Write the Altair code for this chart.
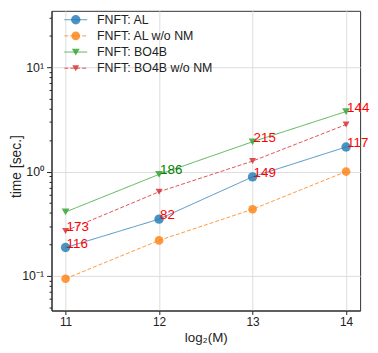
import altair as alt
import pandas as pd

names = ["FNFT: AL", "FNFT: AL w/o NM", "FNFT: BO4B", "FNFT: BO4B w/o NM"]
colors = ["#1f77b4", "#ff7f0e", "#2ca02c", "#d62728"]
shapes = ["circle", "circle", "triangle-down", "triangle-down"]
sizes = [90, 49, 135, 90]
dashes = [[1, 0], [4, 2], [1, 0], [4, 2]]

log2M = [11, 12, 13, 14]
t_al = [0.187, 0.35, 0.89, 1.72]
t_al_nm = [0.094, 0.219, 0.435, 1.0]
t_bo4b = [0.41, 0.94, 1.93, 3.76]
t_bo4b_nm = [0.27, 0.64, 1.26, 2.82]

ann_x = [11, 11, 12, 12, 13, 13, 14, 14]
ann_y = [0.187, 0.27, 0.35, 0.94, 0.89, 1.93, 1.72, 3.76]
ann_text = ["116", "173", "82", "186", "149", "215", "117", "144"]
ann_color = ["#ff0000", "#ff0000", "#ff0000", "#008000", "#ff0000", "#ff0000", "#ff0000", "#ff0000"]

major_y = [0.1, 1, 10]
minor_y = [0.05, 0.06, 0.07, 0.08, 0.09,
           0.2, 0.3, 0.4, 0.5, 0.6, 0.7, 0.8, 0.9,
           2, 3, 4, 5, 6, 7, 8, 9, 20, 30]

rows = []
for name, vals in zip(names, [t_al, t_al_nm, t_bo4b, t_bo4b_nm]):
    for x, v in zip(log2M, vals):
        rows.append({"series": name, "M": x, "t": v})
df = pd.DataFrame(rows)
ann = pd.DataFrame({"M": ann_x, "t": ann_y, "label": ann_text, "c": ann_color})
leg = pd.DataFrame({"series": names})

FONT = "Liberation Sans"
xscale = alt.Scale(domain=[10.85, 14.15], nice=False, zero=False)
yscale = alt.Scale(type="log", domain=[0.0466, 34.7], nice=False)
cscale = alt.Scale(domain=names, range=colors)
shscale = alt.Scale(domain=names, range=shapes)
szscale = alt.Scale(domain=names, range=sizes)
dscale = alt.Scale(domain=names, range=dashes)
legy = alt.Scale(type="point", domain=names, range=[9, 58], padding=0)

xaxis = alt.Axis(values=log2M, format="d", title="log₂(M)", grid=True,
                 gridColor="#dddddd", tickSize=4, tickColor="#222",
                 labelFontSize=12, labelColor="#222", titleFontSize=13.5,
                 titleFontWeight="normal", titleColor="#222", labelPadding=2,
                 titlePadding=3, domainColor="#222")

lines = alt.Chart(df).mark_line(strokeWidth=1, opacity=0.8).encode(
    x=alt.X("M:Q", scale=xscale, axis=xaxis),
    y=alt.Y("t:Q", scale=yscale, axis=alt.Axis(
        values=major_y, grid=True, gridColor="#dddddd", title="time [sec.]",
        labelExpr="datum.value < 0.5 ? '10⁻¹' : (datum.value < 5 ? '10⁰' : '10¹')",
        tickSize=5, tickColor="#222", labelFontSize=12.5, labelColor="#222",
        titleFontSize=14, titleFontWeight="normal", titleColor="#222",
        titleX=-35, titleY=157, titleBaseline="middle",
        labelPadding=3, domainColor="#222")),
    color=alt.Color("series:N", scale=cscale, legend=None),
    strokeDash=alt.StrokeDash("series:N", scale=dscale, legend=None),
    detail="series:N",
)

points = alt.Chart(df).mark_point(filled=True, opacity=0.8).encode(
    x=alt.X("M:Q", scale=xscale, axis=xaxis),
    y=alt.Y("t:Q", scale=yscale, axis=alt.Axis(
        values=minor_y, orient="left", grid=False, labels=False, title=None,
        tickSize=2.5, tickColor="#222", domain=False)),
    color=alt.Color("series:N", scale=cscale, legend=None),
    shape=alt.Shape("series:N", scale=shscale, legend=None),
    size=alt.Size("series:N", scale=szscale, legend=None),
)

labels = alt.Chart(ann).mark_text(align="left", baseline="alphabetic", dx=1,
                                  fontSize=13.5, font=FONT).encode(
    x=alt.X("M:Q", scale=xscale, axis=xaxis),
    y=alt.Y("t:Q", scale=yscale, axis=None),
    text="label:N",
    color=alt.Color("c:N", scale=None, legend=None),
)

leg_rule = alt.Chart(leg).mark_rule(strokeWidth=1, opacity=0.8).encode(
    x=alt.value(13), x2=alt.value(36),
    y=alt.Y("series:N", scale=legy, axis=None),
    color=alt.Color("series:N", scale=cscale, legend=None),
    strokeDash=alt.StrokeDash("series:N", scale=dscale, legend=None),
)
leg_pt = alt.Chart(leg).mark_point(filled=True, opacity=0.8).encode(
    x=alt.value(24.5),
    y=alt.Y("series:N", scale=legy, axis=None),
    color=alt.Color("series:N", scale=cscale, legend=None),
    shape=alt.Shape("series:N", scale=shscale, legend=None),
    size=alt.Size("series:N", scale=szscale, legend=None),
)
leg_txt = alt.Chart(leg).mark_text(align="left", baseline="middle", fontSize=12.5,
                                   font=FONT, color="#222").encode(
    x=alt.value(46),
    y=alt.Y("series:N", scale=legy, axis=None),
    text="series:N",
)

chart = alt.layer(lines, points, labels, leg_rule, leg_pt, leg_txt).resolve_scale(
    y="independent"
).resolve_axis(y="independent").properties(
    width=312, height=303,
    autosize=alt.AutoSizeParams(type="none"),
    padding={"left": 44, "top": 1, "right": 10, "bottom": 33},
).configure(font=FONT).configure_view(stroke="#333", strokeWidth=1)

chart.save("out.html", embed_options={"renderer": "svg", "actions": False})
